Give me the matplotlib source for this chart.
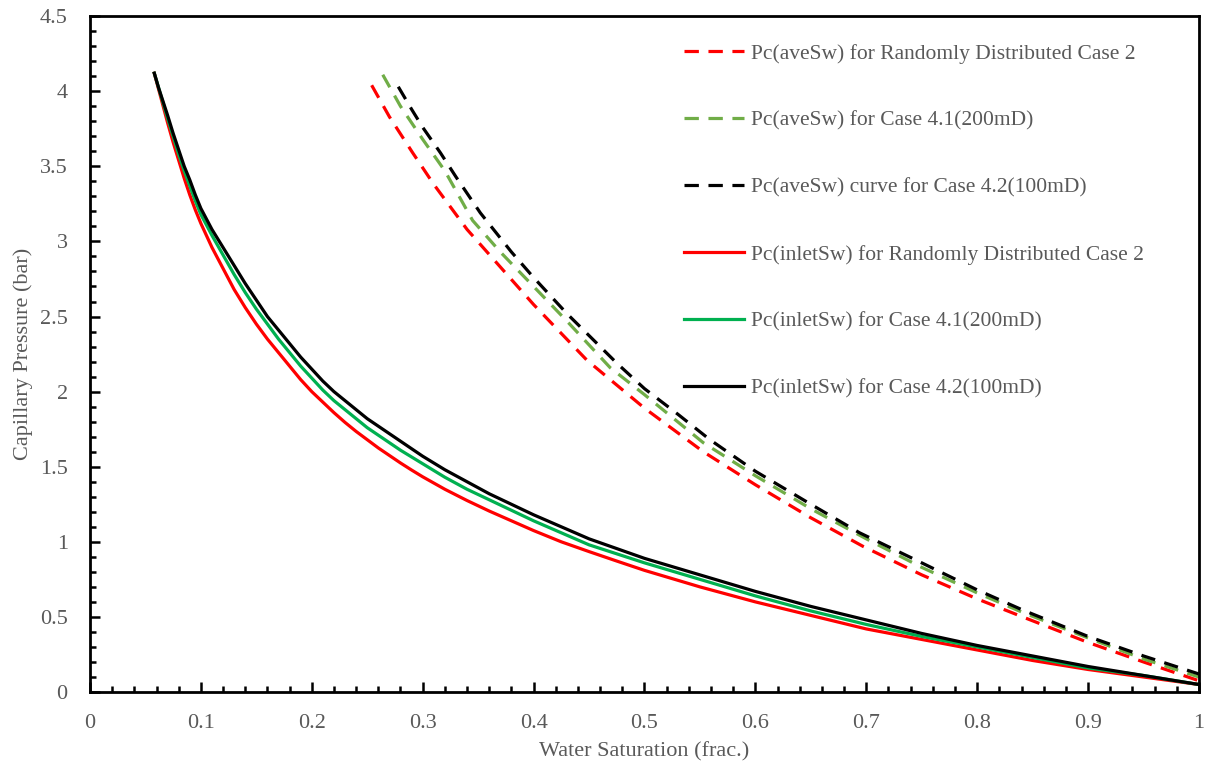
import matplotlib
matplotlib.use("Agg")
import matplotlib.pyplot as plt
from matplotlib.ticker import MultipleLocator, FuncFormatter

plt.rcParams['font.family'] = ['Liberation Serif', 'DejaVu Serif']

TEXT = '#595959'

# Pc(inletSw) curves
sw_inlet = [0.058, 0.062, 0.066, 0.07, 0.075, 0.08, 0.085, 0.09, 0.095, 0.10,
            0.11, 0.12, 0.13, 0.14, 0.15, 0.16, 0.17, 0.18, 0.19, 0.20,
            0.21, 0.22, 0.23, 0.24, 0.25, 0.26, 0.27, 0.28, 0.29, 0.30,
            0.32, 0.34, 0.36, 0.38, 0.40, 0.425, 0.45, 0.475, 0.50, 0.55,
            0.60, 0.65, 0.70, 0.75, 0.80, 0.85, 0.90, 0.95, 1.00]
pc_inlet_case2 = [4.12, 4.01, 3.90, 3.79, 3.66, 3.54, 3.42, 3.31, 3.21, 3.12,
                  2.96, 2.82, 2.68, 2.56, 2.45, 2.35, 2.26, 2.17, 2.08, 2.00,
                  1.93, 1.86, 1.795, 1.735, 1.68, 1.625, 1.575, 1.525, 1.478, 1.433,
                  1.35, 1.275, 1.205, 1.14, 1.075, 1.00, 0.935, 0.872, 0.81, 0.70,
                  0.60, 0.51, 0.42, 0.35, 0.28, 0.21, 0.15, 0.10, 0.05]
pc_inlet_41 = [4.12, 4.02, 3.92, 3.82, 3.70, 3.58, 3.47, 3.37, 3.27, 3.18,
               3.04, 2.91, 2.78, 2.66, 2.55, 2.45, 2.35, 2.26, 2.17, 2.09,
               2.01, 1.94, 1.88, 1.82, 1.76, 1.71, 1.66, 1.61, 1.565, 1.52,
               1.43, 1.35, 1.28, 1.21, 1.14, 1.06, 0.98, 0.92, 0.86, 0.75,
               0.64, 0.54, 0.45, 0.37, 0.30, 0.23, 0.16, 0.11, 0.05]
pc_inlet_42 = [4.12, 4.02, 3.93, 3.84, 3.72, 3.61, 3.50, 3.41, 3.31, 3.22,
               3.08, 2.96, 2.84, 2.72, 2.61, 2.50, 2.41, 2.32, 2.23, 2.15,
               2.07, 2.00, 1.94, 1.88, 1.82, 1.77, 1.72, 1.67, 1.62, 1.57,
               1.48, 1.40, 1.32, 1.25, 1.18, 1.10, 1.02, 0.955, 0.89, 0.78,
               0.67, 0.57, 0.48, 0.39, 0.31, 0.24, 0.17, 0.11, 0.05]

# Pc(aveSw) curves
sw_ave_case2 = [0.254, 0.27, 0.291, 0.31, 0.34, 0.37, 0.40, 0.448, 0.50, 0.553,
                0.60, 0.65, 0.697, 0.75, 0.80, 0.841, 0.90, 0.95, 1.00]
pc_ave_case2 = [4.04, 3.83, 3.59, 3.38, 3.08, 2.83, 2.58, 2.21, 1.89, 1.60,
                1.38, 1.16, 0.97, 0.78, 0.62, 0.50, 0.33, 0.20, 0.075]
sw_ave_41 = [0.264, 0.28, 0.30, 0.32, 0.345, 0.37, 0.40, 0.43, 0.469, 0.50,
             0.553, 0.60, 0.65, 0.70, 0.75, 0.80, 0.841, 0.90, 0.95, 1.00]
pc_ave_41 = [4.11, 3.90, 3.68, 3.47, 3.14, 2.93, 2.70, 2.47, 2.16, 1.98,
             1.66, 1.44, 1.22, 1.02, 0.83, 0.66, 0.53, 0.36, 0.22, 0.10]
sw_ave_42 = [0.278, 0.29, 0.30, 0.316, 0.33, 0.352, 0.38, 0.40, 0.43, 0.475,
             0.50, 0.53, 0.559, 0.60, 0.65, 0.694, 0.75, 0.80, 0.841, 0.90,
             0.95, 1.00]
pc_ave_42 = [4.03, 3.88, 3.76, 3.59, 3.43, 3.19, 2.93, 2.76, 2.52, 2.19,
             2.02, 1.85, 1.68, 1.47, 1.25, 1.06, 0.86, 0.68, 0.546, 0.37,
             0.24, 0.12]

labels = [
    'Pc(aveSw) for Randomly Distributed Case 2',
    'Pc(aveSw) for Case 4.1(200mD)',
    'Pc(aveSw) curve for Case 4.2(100mD)',
    'Pc(inletSw) for Randomly Distributed Case 2',
    'Pc(inletSw) for Case 4.1(200mD)',
    'Pc(inletSw) for Case 4.2(100mD)',
]

fig = plt.figure(figsize=(12.06, 7.69), dpi=100)
ax = fig.add_axes([0.0746, 0.1001, 0.9196, 0.8789])

lw = 2.3
dash = (0, (4.5, 3.0))
ax.plot(sw_ave_case2, pc_ave_case2, color='#FF0000', lw=lw, ls=dash, label=labels[0])
ax.plot(sw_ave_41, pc_ave_41, color='#70AD47', lw=lw, ls=dash, label=labels[1])
ax.plot(sw_ave_42, pc_ave_42, color='#000000', lw=lw, ls=dash, label=labels[2])
ax.plot(sw_inlet, pc_inlet_case2, color='#FF0000', lw=lw, label=labels[3])
ax.plot(sw_inlet, pc_inlet_41, color='#00B050', lw=lw, label=labels[4])
ax.plot(sw_inlet, pc_inlet_42, color='#000000', lw=lw, label=labels[5])

ax.set_xlim(0, 1)
ax.set_ylim(0, 4.5)
ax.xaxis.set_major_locator(MultipleLocator(0.1))
ax.xaxis.set_minor_locator(MultipleLocator(0.02))
ax.yaxis.set_major_locator(MultipleLocator(0.5))
ax.yaxis.set_minor_locator(MultipleLocator(0.1))


def fmt(v, _):
    s = f'{v:.1f}'
    if s.endswith('.0'):
        s = s[:-2]
    return s


ax.xaxis.set_major_formatter(FuncFormatter(fmt))
ax.yaxis.set_major_formatter(FuncFormatter(fmt))

for sp in ax.spines.values():
    sp.set_linewidth(2.0)
    sp.set_color('black')

ax.tick_params(which='major', direction='in', length=7, width=1.8,
               labelsize=16, labelcolor=TEXT)
ax.tick_params(which='minor', direction='in', length=4.5, width=1.8)
ax.tick_params(axis='x', which='major', pad=16)
ax.tick_params(axis='y', which='major', pad=16)

ax.set_xlabel('Water Saturation (frac.)', fontsize=16, color=TEXT, labelpad=6)
ax.set_ylabel('Capillary Pressure (bar)', fontsize=16, color=TEXT, labelpad=5)

leg = ax.legend(loc='upper left', bbox_to_anchor=(0.528, 0.972), frameon=False,
                fontsize=15.5, handlelength=2.8, handletextpad=0.3,
                labelspacing=2.18, borderaxespad=0)
for t in leg.get_texts():
    t.set_color(TEXT)

fig.savefig('out.png', dpi=100, facecolor='white')
